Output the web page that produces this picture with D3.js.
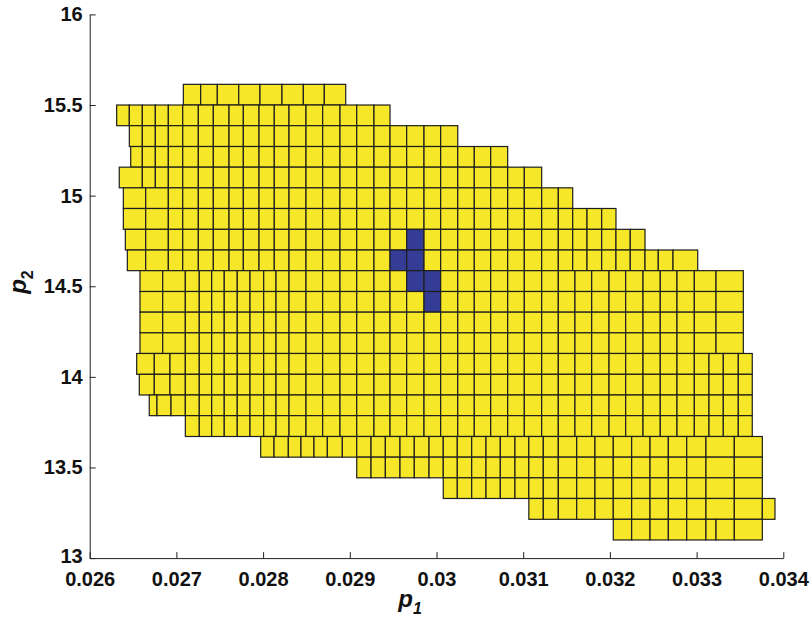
<!DOCTYPE html>
<html>
  <head>
    <meta charset="utf-8">
    <style>
      body {
        margin: 0;
        background: #fff;
      }
      text {
        font-family: "Liberation Sans", Arial, sans-serif;
        font-weight: bold;
        fill: #111;
      }
      .cell {
        stroke: #1e1e1e;
        stroke-width: 1.2px;
      }
      .axis path, .axis line {
        stroke: #222;
        stroke-width: 1px;
      }
    </style>
  </head>
  <body>
    <script src="https://cdn.jsdelivr.net/npm/d3@7"></script>
    <script>
      var xTicks = [0.026, 0.027, 0.028, 0.029, 0.03, 0.031, 0.032, 0.033, 0.034];
      var xTickLabels = ["0.026", "0.027", "0.028", "0.029", "0.03", "0.031", "0.032", "0.033", "0.034"];
      var yTicks = [13, 13.5, 14, 14.5, 15, 15.5, 16];
      var yTickLabels = ["13", "13.5", "14", "14.5", "15", "15.5", "16"];

      // p2 boundaries of the rows, top to bottom
      var p2Edges = [15.614, 15.5, 15.386, 15.271, 15.157, 15.043, 14.929, 14.814, 14.7, 14.586, 14.471, 14.357,
                     14.243, 14.129, 14.014, 13.9, 13.786, 13.671, 13.557, 13.443, 13.329, 13.214, 13.1];

      // p1 boundaries of the cells in each row
      var p1Edges = [
        [0.027080, 0.027280, 0.027472, 0.027719, 0.027964, 0.028218, 0.028464, 0.028706, 0.028953],
        [0.026311, 0.026457, 0.026607, 0.026757, 0.026907, 0.027073, 0.027253, 0.027426, 0.027607, 0.027772, 0.027953, 0.028129, 0.028299, 0.028495, 0.028687, 0.028887, 0.029080, 0.029279, 0.029464],
        [0.026457, 0.026607, 0.026757, 0.026907, 0.027073, 0.027253, 0.027426, 0.027607, 0.027772, 0.027953, 0.028129, 0.028299, 0.028495, 0.028687, 0.028887, 0.029080, 0.029279, 0.029464, 0.029656, 0.029856, 0.030048, 0.030245],
        [0.026473, 0.026607, 0.026757, 0.026907, 0.027073, 0.027253, 0.027426, 0.027607, 0.027772, 0.027953, 0.028129, 0.028299, 0.028495, 0.028687, 0.028887, 0.029080, 0.029279, 0.029464, 0.029656, 0.029856, 0.030048, 0.030245, 0.030436, 0.030625, 0.030821],
        [0.026341, 0.026607, 0.026757, 0.026907, 0.027073, 0.027253, 0.027426, 0.027607, 0.027772, 0.027953, 0.028129, 0.028299, 0.028495, 0.028687, 0.028887, 0.029080, 0.029279, 0.029464, 0.029656, 0.029856, 0.030048, 0.030245, 0.030436, 0.030625, 0.030821, 0.031013, 0.031213],
        [0.026388, 0.026646, 0.026907, 0.027073, 0.027253, 0.027426, 0.027607, 0.027772, 0.027953, 0.028129, 0.028299, 0.028495, 0.028687, 0.028887, 0.029080, 0.029279, 0.029464, 0.029656, 0.029856, 0.030048, 0.030245, 0.030436, 0.030625, 0.030821, 0.031013, 0.031213, 0.031405, 0.031571],
        [0.026388, 0.026646, 0.026907, 0.027073, 0.027253, 0.027426, 0.027607, 0.027772, 0.027953, 0.028129, 0.028299, 0.028495, 0.028687, 0.028887, 0.029080, 0.029279, 0.029464, 0.029656, 0.029856, 0.030048, 0.030245, 0.030436, 0.030625, 0.030821, 0.031013, 0.031213, 0.031405, 0.031571, 0.031736, 0.031905, 0.032070],
        [0.026411, 0.026646, 0.026907, 0.027073, 0.027253, 0.027426, 0.027607, 0.027772, 0.027953, 0.028129, 0.028299, 0.028495, 0.028687, 0.028887, 0.029080, 0.029279, 0.029464, 0.029656, 0.029856, 0.030048, 0.030245, 0.030436, 0.030625, 0.030821, 0.031013, 0.031213, 0.031405, 0.031571, 0.031736, 0.031905, 0.032070, 0.032235, 0.032405],
        [0.026434, 0.026646, 0.026907, 0.027073, 0.027253, 0.027426, 0.027607, 0.027772, 0.027953, 0.028129, 0.028299, 0.028495, 0.028687, 0.028887, 0.029080, 0.029279, 0.029464, 0.029656, 0.029856, 0.030048, 0.030245, 0.030436, 0.030625, 0.030821, 0.031013, 0.031213, 0.031405, 0.031571, 0.031736, 0.031905, 0.032070, 0.032235, 0.032405, 0.032558, 0.032728, 0.033013],
        [0.026580, 0.026842, 0.027103, 0.027264, 0.027407, 0.027552, 0.027702, 0.027849, 0.028007, 0.028149, 0.028299, 0.028495, 0.028687, 0.028887, 0.029080, 0.029279, 0.029464, 0.029656, 0.029856, 0.030048, 0.030245, 0.030436, 0.030625, 0.030821, 0.031013, 0.031213, 0.031405, 0.031597, 0.031790, 0.031990, 0.032182, 0.032382, 0.032581, 0.032774, 0.032974, 0.033224, 0.033539],
        [0.026580, 0.026842, 0.027103, 0.027264, 0.027407, 0.027552, 0.027702, 0.027849, 0.028007, 0.028149, 0.028299, 0.028495, 0.028687, 0.028887, 0.029080, 0.029279, 0.029464, 0.029656, 0.029856, 0.030048, 0.030245, 0.030436, 0.030625, 0.030821, 0.031013, 0.031213, 0.031405, 0.031597, 0.031790, 0.031990, 0.032182, 0.032382, 0.032581, 0.032774, 0.032974, 0.033224, 0.033539],
        [0.026580, 0.026842, 0.027103, 0.027264, 0.027407, 0.027552, 0.027702, 0.027849, 0.028007, 0.028149, 0.028299, 0.028495, 0.028687, 0.028887, 0.029080, 0.029279, 0.029464, 0.029656, 0.029856, 0.030048, 0.030245, 0.030436, 0.030625, 0.030821, 0.031013, 0.031213, 0.031405, 0.031597, 0.031790, 0.031990, 0.032182, 0.032382, 0.032581, 0.032774, 0.032974, 0.033224, 0.033539],
        [0.026580, 0.026842, 0.027103, 0.027264, 0.027407, 0.027552, 0.027702, 0.027849, 0.028007, 0.028149, 0.028299, 0.028495, 0.028687, 0.028887, 0.029080, 0.029279, 0.029464, 0.029656, 0.029856, 0.030048, 0.030245, 0.030436, 0.030625, 0.030821, 0.031013, 0.031213, 0.031405, 0.031597, 0.031790, 0.031990, 0.032182, 0.032382, 0.032581, 0.032774, 0.032974, 0.033224, 0.033539],
        [0.026542, 0.026745, 0.026926, 0.027103, 0.027264, 0.027407, 0.027552, 0.027702, 0.027849, 0.028007, 0.028149, 0.028299, 0.028495, 0.028687, 0.028887, 0.029080, 0.029279, 0.029464, 0.029656, 0.029856, 0.030048, 0.030245, 0.030436, 0.030625, 0.030821, 0.031013, 0.031213, 0.031405, 0.031597, 0.031790, 0.031990, 0.032182, 0.032382, 0.032581, 0.032774, 0.032974, 0.033143, 0.033308, 0.033481, 0.033642],
        [0.026572, 0.026745, 0.026926, 0.027103, 0.027264, 0.027407, 0.027552, 0.027702, 0.027849, 0.028007, 0.028149, 0.028299, 0.028495, 0.028687, 0.028887, 0.029080, 0.029279, 0.029464, 0.029656, 0.029856, 0.030048, 0.030245, 0.030436, 0.030625, 0.030821, 0.031013, 0.031213, 0.031405, 0.031597, 0.031790, 0.031990, 0.032182, 0.032382, 0.032581, 0.032774, 0.032974, 0.033143, 0.033308, 0.033481, 0.033642],
        [0.026687, 0.026776, 0.026938, 0.027103, 0.027264, 0.027407, 0.027552, 0.027702, 0.027849, 0.028007, 0.028149, 0.028299, 0.028495, 0.028687, 0.028887, 0.029080, 0.029279, 0.029464, 0.029656, 0.029856, 0.030048, 0.030245, 0.030436, 0.030625, 0.030821, 0.031013, 0.031213, 0.031405, 0.031597, 0.031790, 0.031990, 0.032182, 0.032382, 0.032581, 0.032774, 0.032974, 0.033143, 0.033308, 0.033481, 0.033642],
        [0.027103, 0.027264, 0.027407, 0.027552, 0.027702, 0.027849, 0.028007, 0.028149, 0.028299, 0.028495, 0.028687, 0.028887, 0.029080, 0.029279, 0.029464, 0.029656, 0.029856, 0.030048, 0.030245, 0.030436, 0.030625, 0.030821, 0.031013, 0.031213, 0.031405, 0.031597, 0.031790, 0.031990, 0.032182, 0.032382, 0.032581, 0.032774, 0.032974, 0.033143, 0.033308, 0.033481, 0.033642],
        [0.027972, 0.028126, 0.028291, 0.028437, 0.028587, 0.028741, 0.028914, 0.029080, 0.029245, 0.029410, 0.029579, 0.029744, 0.029914, 0.030078, 0.030240, 0.030406, 0.030571, 0.030736, 0.030905, 0.031065, 0.031232, 0.031405, 0.031617, 0.031828, 0.032039, 0.032251, 0.032463, 0.032674, 0.032886, 0.033108, 0.033435, 0.033758],
        [0.029080, 0.029245, 0.029410, 0.029579, 0.029744, 0.029914, 0.030078, 0.030240, 0.030406, 0.030571, 0.030736, 0.030905, 0.031065, 0.031232, 0.031405, 0.031617, 0.031828, 0.032039, 0.032251, 0.032463, 0.032674, 0.032886, 0.033108, 0.033435, 0.033758],
        [0.030078, 0.030240, 0.030406, 0.030571, 0.030736, 0.030905, 0.031065, 0.031232, 0.031405, 0.031617, 0.031828, 0.032039, 0.032251, 0.032463, 0.032674, 0.032886, 0.033108, 0.033435, 0.033758],
        [0.031065, 0.031232, 0.031405, 0.031617, 0.031828, 0.032039, 0.032251, 0.032463, 0.032674, 0.032886, 0.033108, 0.033435, 0.033758, 0.033904],
        [0.032039, 0.032251, 0.032463, 0.032674, 0.032886, 0.033108, 0.033224, 0.033435, 0.033758]
      ];

      // cells drawn in blue: [row, left p1 edge]
      var blueCells = [[7, 0.029656], [8, 0.029464], [8, 0.029656], [9, 0.029656], [9, 0.029856], [10, 0.029856]];

      var width = 812, height = 626;
      var yellow = "#f6e829", blue = "#343c96";

      var x = d3.scaleLinear().domain([0.026, 0.034]).range([89.7, 783.3]);
      var y = d3.scaleLinear().domain([13, 16]).range([558.1, 14.4]);

      var svg = d3.select("body").append("svg")
          .attr("width", width)
          .attr("height", height);

      var cells = [];
      p1Edges.forEach(function(edges, i){
        for (var j = 0; j < edges.length - 1; j++) {
          var isBlue = blueCells.some(function(b){ return b[0] === i && Math.abs(b[1] - edges[j]) < 1e-7; });
          cells.push({ x0: edges[j], x1: edges[j + 1], top: p2Edges[i], bottom: p2Edges[i + 1], blue: isBlue });
        }
      });

      svg.append("g")
          .selectAll("rect")
          .data(cells)
        .enter().append("rect")
          .attr("class", "cell")
          .attr("x", function(d){ return x(d.x0); })
          .attr("y", function(d){ return y(d.top); })
          .attr("width", function(d){ return x(d.x1) - x(d.x0); })
          .attr("height", function(d){ return y(d.bottom) - y(d.top); })
          .attr("fill", function(d){ return d.blue ? blue : yellow; });

      svg.append("g")
          .attr("class", "axis")
          .attr("transform", "translate(0," + y(13) + ")")
          .call(d3.axisBottom(x)
              .tickValues(xTicks)
              .tickFormat(function(d, i){ return xTickLabels[i]; })
              .tickSizeInner(-6)
              .tickSizeOuter(0)
              .tickPadding(14));

      svg.append("g")
          .attr("class", "axis")
          .attr("transform", "translate(" + x(0.026) + ",0)")
          .call(d3.axisLeft(y)
              .tickValues(yTicks)
              .tickFormat(function(d, i){ return yTickLabels[i]; })
              .tickSizeInner(-6)
              .tickSizeOuter(0)
              .tickPadding(7));

      svg.selectAll(".axis text")
          .attr("font-family", null)
          .attr("font-size", null)
          .style("font-size", "20px")
          .style("fill", "#111");

      // the "13" label sits a little high so it clears the x labels
      svg.selectAll(".axis text")
          .filter(function(){ return this.textContent === "13"; })
          .attr("dy", "0.2em");

      var xLabel = svg.append("text")
          .attr("x", 410)
          .attr("y", 607)
          .attr("text-anchor", "middle")
          .style("font-size", "24px");
      xLabel.append("tspan").style("font-style", "italic").text("p");
      xLabel.append("tspan").attr("dy", 7).style("font-size", "16px").style("font-style", "italic").text("1");

      var yLabel = svg.append("text")
          .attr("transform", "translate(26,282) rotate(-90)")
          .attr("text-anchor", "middle")
          .style("font-size", "24px");
      yLabel.append("tspan").style("font-style", "italic").text("p");
      yLabel.append("tspan").attr("dy", 7).style("font-size", "16px").text("2");
    </script>
  </body>
</html>
